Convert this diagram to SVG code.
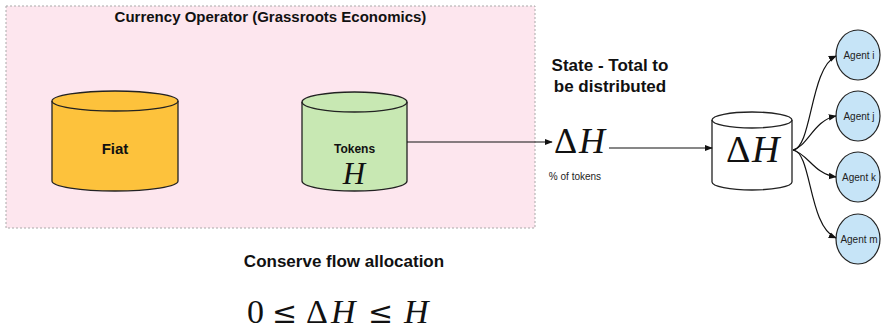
<svg xmlns="http://www.w3.org/2000/svg" width="883" height="331" viewBox="0 0 883 331">
<style>
.cyl{stroke:#222;stroke-width:1.3}
.lbl{font-family:"Liberation Sans",Arial,sans-serif;font-weight:bold;fill:#111;text-anchor:middle}
.sm{font-family:"Liberation Sans",Arial,sans-serif;fill:#222;text-anchor:middle}
.math{font-family:"Liberation Serif","Times New Roman",serif;fill:#111}
.rel{font-family:"DejaVu Serif",serif;fill:#111}
.it{font-style:italic}
.edge{fill:none;stroke:#111;stroke-width:1.2}
.agent{fill:#c6e4f7;stroke:#222;stroke-width:1.2}
</style>
<defs>
<marker id="arr" viewBox="0 0 10 10" refX="9" refY="5" markerWidth="8" markerHeight="8" markerUnits="userSpaceOnUse" orient="auto">
<path d="M0,1 L10,5 L0,9 Z" fill="#111"/>
</marker>
</defs>
<g id="operator">
<rect x="6" y="6" width="529" height="222" fill="#fde6ee" stroke="#aaa" stroke-width="1" stroke-dasharray="2,2"/>
<text class="lbl" x="270.5" y="22" font-size="15">Currency Operator (Grassroots Economics)</text>
</g>
<g id="fiat">
<path class="cyl" fill="#fdc23c" d="M52,101 A63,10 0 0 1 178,101 L178,181 A63,10 0 0 1 52,181 Z"/>
<path class="cyl" fill="none" d="M52,101 A63,10 0 0 0 178,101"/>
<text class="lbl" x="115" y="154" font-size="15">Fiat</text>
</g>
<g id="tokens">
<path class="cyl" fill="#c8e8b3" d="M302,102 A52.5,10 0 0 1 407,102 L407,181 A52.5,10 0 0 1 302,181 Z"/>
<path class="cyl" fill="none" d="M302,102 A52.5,10 0 0 0 407,102"/>
<text class="lbl" x="354.5" y="153" font-size="12">Tokens</text>
<text class="math it" x="354" y="184" font-size="31" text-anchor="middle">H</text>
</g>
<g id="state">
<text class="lbl" x="610" y="71" font-size="17">State - Total to</text>
<text class="lbl" x="610" y="92" font-size="17">be distributed</text>
<text class="math" x="554" y="153" font-size="36">Δ</text>
<text class="math it" x="579" y="153" font-size="36">H</text>
<text class="sm" x="575" y="180" font-size="10">% of tokens</text>
</g>
<g id="pool">
<path class="cyl" fill="#fff" d="M712,120 A40,8 0 0 1 792,120 L792,182 A40,8 0 0 1 712,182 Z"/>
<path class="cyl" fill="none" d="M712,120 A40,8 0 0 0 792,120"/>
<text class="math" x="726" y="162" font-size="38">Δ</text>
<text class="math it" x="752" y="162" font-size="38">H</text>
</g>
<g id="agent-i">
<ellipse class="agent" cx="858" cy="55" rx="22" ry="25"/>
<text class="sm" x="859" y="58.5" font-size="10">Agent i</text>
</g>
<g id="agent-j">
<ellipse class="agent" cx="858" cy="116" rx="22" ry="25"/>
<text class="sm" x="859" y="119.5" font-size="10">Agent j</text>
</g>
<g id="agent-k">
<ellipse class="agent" cx="858" cy="177" rx="22" ry="25"/>
<text class="sm" x="859" y="180.5" font-size="10">Agent k</text>
</g>
<g id="agent-m">
<ellipse class="agent" cx="858" cy="239" rx="22" ry="25"/>
<text class="sm" x="859" y="242.5" font-size="10">Agent m</text>
</g>
<g id="connectors">
<path class="edge" d="M407,142 L552,142" marker-end="url(#arr)"/>
<path class="edge" d="M609,148 L712,148" marker-end="url(#arr)"/>
<path class="edge" d="M793,150 C812,148 810,68 836,56" marker-end="url(#arr)"/>
<path class="edge" d="M793,150 C808,146 814,120 836,116" marker-end="url(#arr)"/>
<path class="edge" d="M793,150 C808,154 814,174 836,177" marker-end="url(#arr)"/>
<path class="edge" d="M793,150 C812,152 808,226 836,238" marker-end="url(#arr)"/>
</g>
<g id="constraint">
<text class="lbl" x="344" y="267" font-size="17">Conserve flow allocation</text>
<text class="math" x="247" y="323" font-size="34">0</text>
<text class="rel" x="272" y="323" font-size="30">≤</text>
<text class="math" x="306" y="323" font-size="34">Δ</text>
<text class="math it" x="331" y="323" font-size="34">H</text>
<text class="rel" x="368" y="323" font-size="30">≤</text>
<text class="math it" x="404" y="323" font-size="34">H</text>
</g>
</svg>
